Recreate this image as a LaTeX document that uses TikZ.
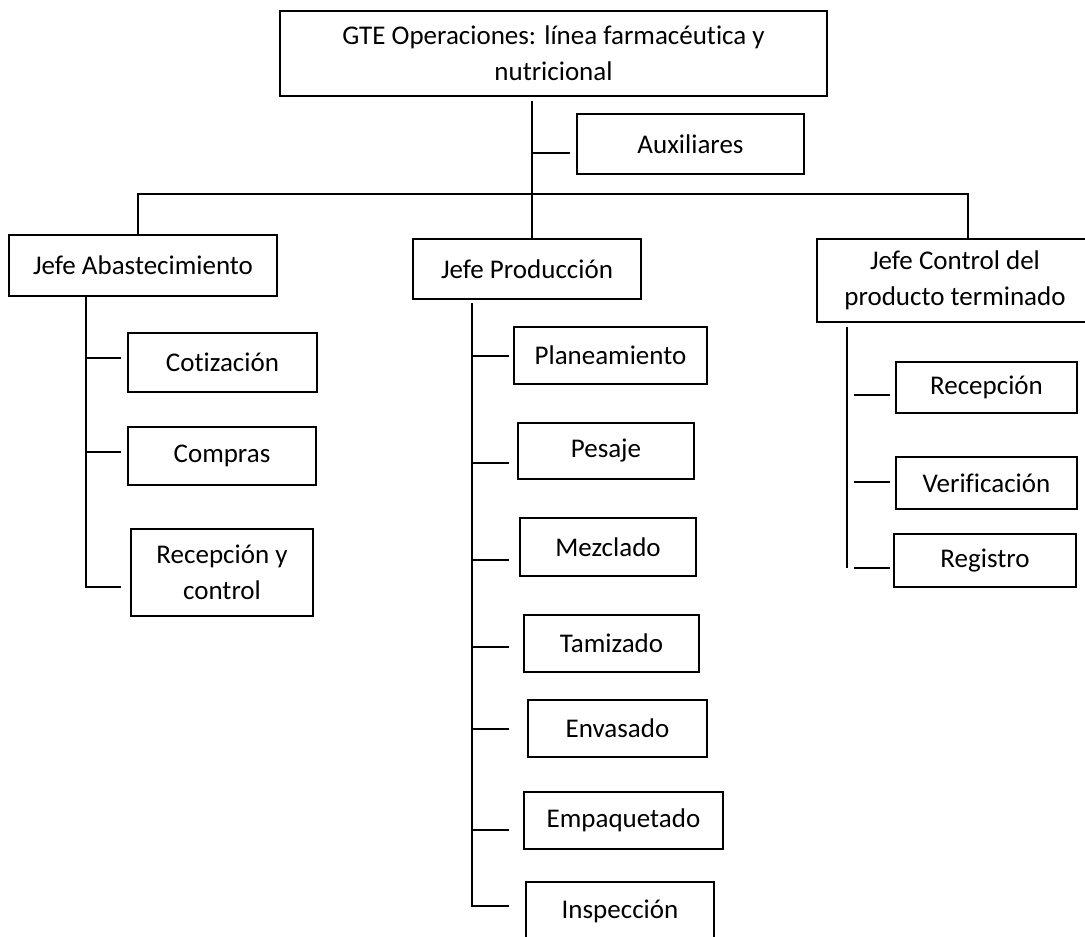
\documentclass[tikz,border=0pt]{standalone}
\usepackage{fontspec}
\setmainfont{Carlito}[Ligatures=NoCommon]
\usepackage{tikz}
\usepackage{xcolor}

\begin{document}
\begin{tikzpicture}[x=1pt, y=-1pt, line width=1.2pt]
\tikzstyle{unit}=[rectangle, draw, line width=1.5pt, align=center, inner sep=0pt, font=\fontsize{27}{36}\selectfont]
\useasboundingbox (0,0) rectangle (1085,937);
\node[unit, minimum width=547, minimum height=85] (gte) at (553.5,53.5) {GTE Operaciones: línea farmacéutica y\\nutricional};
\node[unit, minimum width=227, minimum height=60] (aux) at (690.5,144) {Auxiliares};
\node[unit, minimum width=268, minimum height=61] (abas) at (143,265.5) {Jefe Abastecimiento};
\node[unit, minimum width=228, minimum height=60] (prod) at (527,269) {Jefe Producción};
\node[unit, minimum width=276, minimum height=83] (ctrl) at (955,280.5) {Jefe Control del\\producto terminado};
\node[unit, minimum width=189, minimum height=59] (cot) at (222.5,362.5) {Cotización};
\node[unit, minimum width=188, minimum height=58] (comp) at (222,456) {Compras};
\node[unit, minimum width=182, minimum height=87] (recc) at (222,572.5) {Recepción y\\control};
\node[unit, minimum width=193, minimum height=57] (plan) at (610.5,355.5) {Planeamiento};
\node[unit, minimum width=176, minimum height=56] (pes) at (606,451) {Pesaje};
\node[unit, minimum width=176, minimum height=58] (mez) at (608,547) {Mezclado};
\node[unit, minimum width=175, minimum height=57] (tam) at (611.5,643.5) {Tamizado};
\node[unit, minimum width=179, minimum height=57] (env) at (617.5,728.5) {Envasado};
\node[unit, minimum width=199, minimum height=57] (emp) at (623.5,820.5) {Empaquetado};
\node[unit, minimum width=188, minimum height=58] (insp) at (620,911) {Inspección};
\node[unit, minimum width=181, minimum height=51] (rec) at (986.5,387.5) {Recepción};
\node[unit, minimum width=181, minimum height=52] (ver) at (986.5,483) {Verificación};
\node[unit, minimum width=182, minimum height=53] (reg) at (985,560.5) {Registro};
\coordinate (hub) at (532,194);
\coordinate (ta) at (86,296);
\coordinate (tp) at (472,303);
\coordinate (tc) at (847,327);
\draw ([yshift=-4pt]gte.south -| hub) -- (hub);
\draw ([yshift=-9pt]aux.west -| hub) -- ++(38,0);
\draw ([xshift=-5pt]abas.north) |- (hub) -| ([xshift=13pt]ctrl.north);
\draw (hub) -- (hub |- prod.north);
\draw (abas.south -| ta) -- ([yshift=-14.5pt]recc.west -| ta) -- ++(35,0);
\draw ([yshift=4.5pt]cot.west -| ta) -- ++(35,0);
\draw ([yshift=4pt]comp.west -| ta) -- ++(35,0);
\draw (tp) -- ([yshift=5pt]insp.west -| tp) -- ++(37,0);
\draw ([yshift=-0.5pt]plan.west -| tp) -- ++(37,0);
\draw ([yshift=-12pt]pes.west -| tp) -- ++(37,0);
\draw ([yshift=-13pt]mez.west -| tp) -- ++(37,0);
\draw ([yshift=-3.5pt]tam.west -| tp) -- ++(37,0);
\draw ([yshift=-0.5pt]env.west -| tp) -- ++(37,0);
\draw ([yshift=-9.5pt]emp.west -| tp) -- ++(37,0);
\draw (tc) -- ([yshift=-7.5pt]reg.west -| tc);
\draw ([yshift=-7.5pt]rec.west -| tc) ++(7,0) -- ++(36,0);
\draw ([yshift=1pt]ver.west -| tc) ++(7,0) -- ++(36,0);
\draw ([yshift=-7.5pt]reg.west -| tc) ++(7,0) -- ++(36,0);
\end{tikzpicture}
\end{document}
